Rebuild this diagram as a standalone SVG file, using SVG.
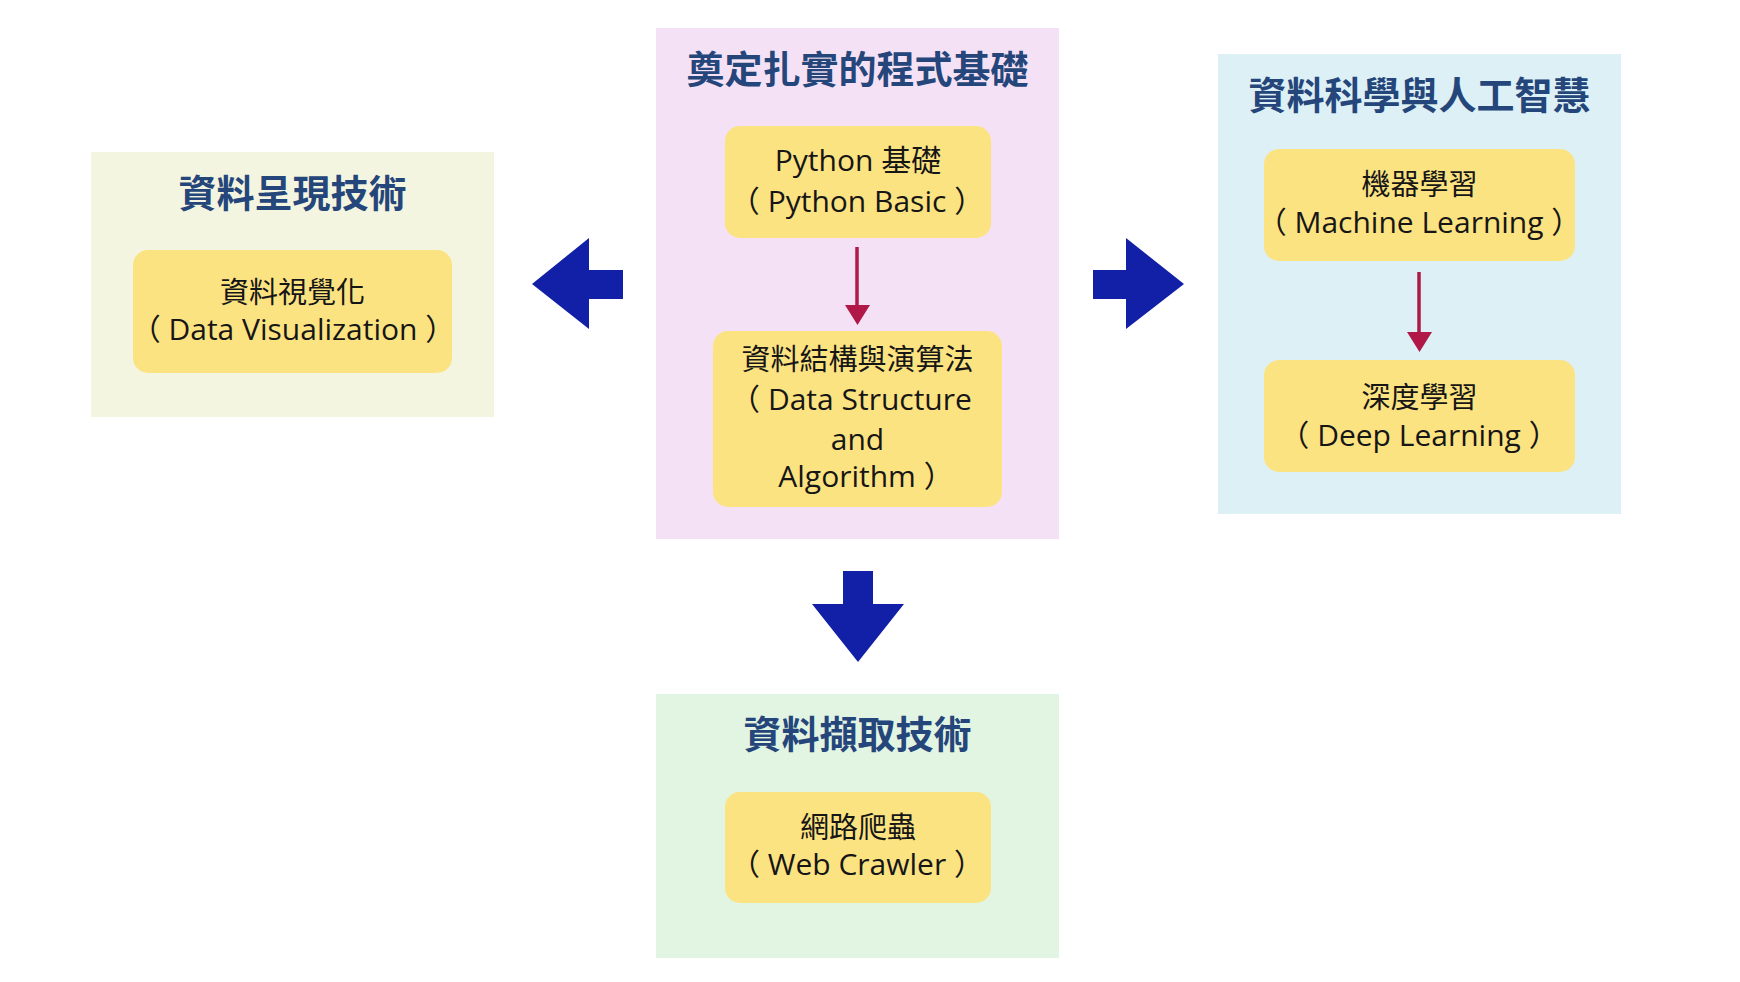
<svg xmlns="http://www.w3.org/2000/svg" width="1740" height="982" viewBox="0 0 1740 982">
<style>
.title{font-family:"Noto Sans CJK TC","Noto Sans",sans-serif;font-weight:700;font-size:38px;fill:#25467a;text-anchor:middle}
.lbl{font-family:"Open Sans","Noto Sans CJK TC",sans-serif;font-size:30px;fill:#161616;text-anchor:middle}
.cjk{font-size:29px}
.box{fill:#fce382}
.big{fill:#1220a8}
.red{stroke:#b01848;stroke-width:3.5;fill:none}
.redh{fill:#b01848}
</style>
<rect width="1740" height="982" fill="#ffffff"/>
<g id="panel-left">
<rect x="91" y="152" width="403" height="265" fill="#f4f5e0"/>
<text class="title" x="292.5" y="207">資料呈現技術</text>
</g>
<g id="panel-center">
<rect x="656" y="28" width="403" height="511" fill="#f5e1f5"/>
<text class="title" x="857.5" y="83">奠定扎實的程式基礎</text>
</g>
<g id="panel-right">
<rect x="1218" y="54" width="403" height="460" fill="#dcf0f6"/>
<text class="title" x="1419.5" y="109">資料科學與人工智慧</text>
</g>
<g id="panel-bottom">
<rect x="656" y="694" width="403" height="264" fill="#e2f4e2"/>
<text class="title" x="857.5" y="748">資料擷取技術</text>
</g>
<g id="node-dataviz">
<rect class="box" x="133" y="250" width="319" height="123" rx="15"/>
<text class="lbl cjk" x="292.5" y="303">資料視覺化</text>
<text class="lbl" x="293" y="340">（ Data Visualization ）</text>
</g>
<g id="node-python">
<rect class="box" x="725" y="126" width="266" height="112" rx="15"/>
<text class="lbl" x="858" y="171">Python 基礎</text>
<text class="lbl" x="857" y="212">（ Python Basic ）</text>
</g>
<g id="node-dsa">
<rect class="box" x="713" y="331" width="289" height="176" rx="15"/>
<text class="lbl cjk" x="857.5" y="370">資料結構與演算法</text>
<text class="lbl" x="851" y="410">（ Data Structure</text>
<text class="lbl" x="857.5" y="450">and</text>
<text class="lbl" x="866" y="487">Algorithm ）</text>
</g>
<g id="node-ml">
<rect class="box" x="1264" y="149" width="311" height="112" rx="15"/>
<text class="lbl cjk" x="1419.5" y="195">機器學習</text>
<text class="lbl" x="1419" y="233">（ Machine Learning ）</text>
</g>
<g id="node-dl">
<rect class="box" x="1264" y="360" width="311" height="112" rx="15"/>
<text class="lbl cjk" x="1419.5" y="408">深度學習</text>
<text class="lbl" x="1419" y="446">（ Deep Learning ）</text>
</g>
<g id="node-crawler">
<rect class="box" x="725" y="792" width="266" height="111" rx="15"/>
<text class="lbl cjk" x="858" y="838">網路爬蟲</text>
<text class="lbl" x="857" y="875">（ Web Crawler ）</text>
</g>
<g id="connectors">
<polygon class="big" points="623,270 589,270 589,238 532,284 589,329 589,299 623,299"/>
<polygon class="big" points="1093,270 1126,270 1126,238 1184,284 1126,329 1126,299 1093,299"/>
<polygon class="big" points="843,571 873,571 873,604 904,604 858,662 812,604 843,604"/>
<line class="red" x1="857" y1="247" x2="857" y2="308"/>
<polygon class="redh" points="845,305 870,305 857.5,325"/>
<line class="red" x1="1419" y1="272" x2="1419" y2="335"/>
<polygon class="redh" points="1407,332 1432,332 1419.5,352"/>
</g>
</svg>
